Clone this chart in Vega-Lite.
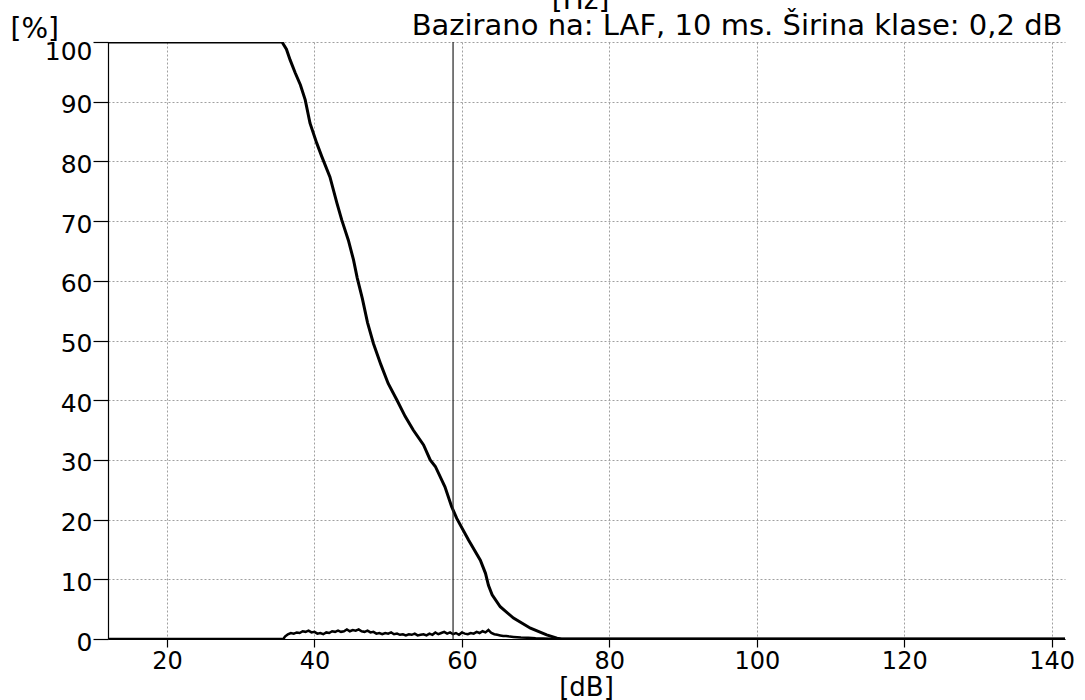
{
  "$schema": "https://vega.github.io/schema/vega-lite/v6.json",
  "width": 957,
  "height": 597,
  "autosize": {"type": "none"},
  "padding": {"left": 108, "top": 42, "right": 20, "bottom": 61},
  "background": "white",
  "config": {
    "view": {"stroke": null},
    "font": "DejaVu Sans"
  },
  "title": {
    "text": "[Hz]",
    "anchor": "middle",
    "fontSize": 28,
    "fontWeight": "normal",
    "font": "DejaVu Sans",
    "color": "black",
    "offset": 0,
    "dx": -6,
    "dy": 4
  },
  "datasets": {
    "cum": [
      {"db": 12, "pct": 100}, {"db": 35.6, "pct": 100}, {"db": 36.2, "pct": 98.8}, {"db": 36.7, "pct": 97},
      {"db": 37.4, "pct": 94.8}, {"db": 38.1, "pct": 92.8}, {"db": 38.75, "pct": 90.3}, {"db": 39.4, "pct": 86.4},
      {"db": 40.3, "pct": 83.1}, {"db": 41.0, "pct": 80.8}, {"db": 42.1, "pct": 77.4}, {"db": 43.05, "pct": 73.0},
      {"db": 43.7, "pct": 70.2}, {"db": 44.6, "pct": 66.8}, {"db": 45.3, "pct": 63.5}, {"db": 45.8, "pct": 60.5},
      {"db": 46.5, "pct": 57}, {"db": 47.2, "pct": 53}, {"db": 48.0, "pct": 49.5}, {"db": 49.0, "pct": 46},
      {"db": 50.0, "pct": 42.8}, {"db": 51.2, "pct": 40.0}, {"db": 52.3, "pct": 37.3}, {"db": 53.4, "pct": 35.0},
      {"db": 54.8, "pct": 32.5}, {"db": 55.7, "pct": 30.0}, {"db": 56.4, "pct": 28.9}, {"db": 57.7, "pct": 25.5},
      {"db": 58.6, "pct": 22.2}, {"db": 59.3, "pct": 20.2}, {"db": 60.9, "pct": 16.6}, {"db": 62.5, "pct": 13.2},
      {"db": 63.2, "pct": 11.0}, {"db": 63.6, "pct": 9.0}, {"db": 64.1, "pct": 7.4}, {"db": 65.2, "pct": 5.4},
      {"db": 67.0, "pct": 3.5}, {"db": 69.3, "pct": 1.8}, {"db": 71.5, "pct": 0.7}, {"db": 72.9, "pct": 0.15},
      {"db": 73.5, "pct": 0}, {"db": 141.8, "pct": 0}
    ],
    "dist": [
      {"db": 12, "pct": 0}, {"db": 35.8, "pct": 0}, {"db": 36.0, "pct": 0.4}, {"db": 36.4, "pct": 0.8},
      {"db": 36.8, "pct": 1.0}, {"db": 37.2, "pct": 0.9}, {"db": 37.6, "pct": 1.1}, {"db": 38.0, "pct": 1.0},
      {"db": 38.4, "pct": 1.3}, {"db": 38.8, "pct": 1.2}, {"db": 39.2, "pct": 1.4}, {"db": 39.6, "pct": 1.1},
      {"db": 40.0, "pct": 1.2}, {"db": 40.4, "pct": 0.9}, {"db": 40.8, "pct": 1.0}, {"db": 41.2, "pct": 0.8},
      {"db": 41.6, "pct": 1.1}, {"db": 42.0, "pct": 1.0}, {"db": 42.4, "pct": 1.3}, {"db": 42.8, "pct": 1.2},
      {"db": 43.2, "pct": 1.4}, {"db": 43.6, "pct": 1.2}, {"db": 44.0, "pct": 1.3}, {"db": 44.4, "pct": 1.6},
      {"db": 44.8, "pct": 1.3}, {"db": 45.2, "pct": 1.5}, {"db": 45.6, "pct": 1.4}, {"db": 46.0, "pct": 1.6},
      {"db": 46.4, "pct": 1.3}, {"db": 46.8, "pct": 1.2}, {"db": 47.2, "pct": 1.4}, {"db": 47.6, "pct": 1.1},
      {"db": 48.0, "pct": 1.2}, {"db": 48.4, "pct": 0.9}, {"db": 48.8, "pct": 1.0}, {"db": 49.2, "pct": 0.8},
      {"db": 49.6, "pct": 1.0}, {"db": 50.0, "pct": 0.9}, {"db": 50.4, "pct": 1.1}, {"db": 50.8, "pct": 0.8},
      {"db": 51.2, "pct": 0.9}, {"db": 51.6, "pct": 0.7}, {"db": 52.0, "pct": 0.8}, {"db": 52.4, "pct": 0.6},
      {"db": 52.8, "pct": 0.8}, {"db": 53.2, "pct": 0.7}, {"db": 53.6, "pct": 0.9}, {"db": 54.0, "pct": 0.6},
      {"db": 54.4, "pct": 0.7}, {"db": 54.8, "pct": 0.8}, {"db": 55.2, "pct": 0.6}, {"db": 55.6, "pct": 0.9},
      {"db": 56.0, "pct": 0.7}, {"db": 56.4, "pct": 1.1}, {"db": 56.8, "pct": 0.8}, {"db": 57.2, "pct": 1.0},
      {"db": 57.6, "pct": 1.2}, {"db": 58.0, "pct": 0.9}, {"db": 58.4, "pct": 1.1}, {"db": 58.8, "pct": 0.8},
      {"db": 59.2, "pct": 1.0}, {"db": 59.6, "pct": 0.7}, {"db": 60.0, "pct": 1.1}, {"db": 60.4, "pct": 0.9},
      {"db": 60.8, "pct": 0.8}, {"db": 61.2, "pct": 1.0}, {"db": 61.6, "pct": 0.9}, {"db": 62.0, "pct": 1.2},
      {"db": 62.4, "pct": 1.0}, {"db": 62.8, "pct": 1.3}, {"db": 63.2, "pct": 1.1}, {"db": 63.6, "pct": 1.5},
      {"db": 64.0, "pct": 1.0}, {"db": 64.4, "pct": 0.8}, {"db": 64.8, "pct": 0.7}, {"db": 65.2, "pct": 0.6},
      {"db": 65.6, "pct": 0.5}, {"db": 66.0, "pct": 0.5}, {"db": 66.5, "pct": 0.4}, {"db": 67.0, "pct": 0.35},
      {"db": 67.5, "pct": 0.3}, {"db": 68.0, "pct": 0.25}, {"db": 69.0, "pct": 0.2}, {"db": 70.0, "pct": 0.12},
      {"db": 71.0, "pct": 0.08}, {"db": 72.0, "pct": 0.05}, {"db": 73.0, "pct": 0.02}, {"db": 73.5, "pct": 0},
      {"db": 141.8, "pct": 0}
    ],
    "cursor": [{"db": 58.8}]
  },
  "resolve": {"axis": {"x": "independent"}},
  "layer": [
    {
      "data": {"name": "cum"},
      "mark": {"type": "line", "color": "black", "strokeWidth": 3, "clip": true},
      "encoding": {
        "x": {
          "field": "db", "type": "quantitative",
          "scale": {"domain": [12, 141.8], "nice": false, "zero": false},
          "axis": {
            "values": [20, 40, 60, 80, 100, 120, 140],
            "grid": true, "gridColor": "#a0a0a0", "gridDash": [2, 2], "gridWidth": 1,
            "domainColor": "black", "domainWidth": 1.2,
            "tickColor": "black", "tickSize": 8, "tickWidth": 1.2,
            "labelFontSize": 24, "labelColor": "black", "labelPadding": 2, "labelFont": "DejaVu Sans",
            "title": "[dB]", "titleFontSize": 26, "titleFontWeight": "normal", "titleColor": "black",
            "titleFont": "DejaVu Sans", "titleX": 478, "titleY": 56, "titleBaseline": "alphabetic", "titleAlign": "center"
          }
        },
        "y": {
          "field": "pct", "type": "quantitative",
          "scale": {"domain": [0, 100], "nice": false},
          "axis": {
            "values": [0, 10, 20, 30, 40, 50, 60, 70, 80, 90, 100],
            "grid": true, "gridColor": "#a0a0a0", "gridDash": [2, 2], "gridWidth": 1,
            "domainColor": "black", "domainWidth": 1.2,
            "tickColor": "black", "tickSize": 15, "tickWidth": 1.2,
            "labelFontSize": 25, "labelColor": "black", "labelPadding": 1, "labelFont": "DejaVu Sans",
            "labelBaseline": "middle",
            "labelOffset": {"condition": {"test": "datum.value == 100", "value": 9}, "value": 3},
            "title": "[%]", "titleAngle": 0, "titleX": -98, "titleY": -5,
            "titleAlign": "left", "titleBaseline": "alphabetic",
            "titleFontSize": 28, "titleFontWeight": "normal", "titleColor": "black", "titleFont": "DejaVu Sans"
          }
        }
      }
    },
    {
      "data": {"name": "dist"},
      "mark": {"type": "line", "color": "black", "strokeWidth": 2.5, "clip": true},
      "encoding": {
        "x": {
          "field": "db", "type": "quantitative",
          "scale": {"domain": [12, 141.8], "nice": false, "zero": false},
          "axis": {
            "orient": "top", "labels": false, "ticks": false, "domain": false, "grid": false,
            "title": "Bazirano na: LAF, 10 ms. Širina klase: 0,2 dB",
            "titleFontSize": 29, "titleFontWeight": "normal", "titleColor": "black", "titleFont": "DejaVu Sans",
            "titleX": 954, "titleY": -8, "titleAlign": "right", "titleBaseline": "alphabetic"
          }
        },
        "y": {"field": "pct", "type": "quantitative", "scale": {"domain": [0, 100], "nice": false}}
      }
    },
    {
      "data": {"name": "cursor"},
      "mark": {"type": "rule", "color": "#222222", "strokeWidth": 1.2},
      "encoding": {
        "x": {"field": "db", "type": "quantitative", "scale": {"domain": [12, 141.8], "nice": false, "zero": false}, "axis": null}
      }
    }
  ]
}
